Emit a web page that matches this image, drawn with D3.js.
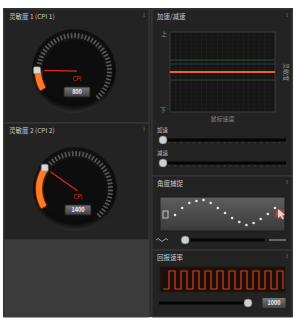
<!DOCTYPE html>
<html lang="zh">
<head>
<meta charset="UTF-8">
<title>鼠标设置</title>
<style>
  * { margin: 0; padding: 0; }
  body { background: #fff; }
  text { font-family: "Noto Sans CJK SC", "DejaVu Sans", sans-serif; }
</style>
</head>
<body>
<div id="chart"></div>
<script src="https://cdn.jsdelivr.net/npm/d3@7/dist/d3.min.js"></script>
<script>
// ---- data ----
const cpiTitles = ['灵敏度 1 (CPI 1)', '灵敏度 2 (CPI 2)']
const cpiValues = [800, 1400]
const cpiDomain = [250, 5600]

const accelTitle = '加速/减速'
const accelLines = [0, 0.3, 0.2, -0.2]
const accelColors = ['#f0642a', '#2f6a2a', '#27456a', '#2c5a2c']
const accelAxisLabels = ['上', '下']
const accelXLabel = '鼠标速度'
const accelYLabel = '灵敏度'
const sliderLabels = ['加速', '减速']
const sliderValues = [0, 0]

const snapTitle = '角度捕捉'
const snapDots = [-0.15, 0.38, 0.77, 0.92, 1, 0.77, 0.38, 0, -0.38, -0.69, -0.92, -0.77, -0.46, -0.08, 0.38]
const snapValue = 0.05

const rateTitle = '回报速率'
const ratePulses = [0, 1, 0, 1, 0, 1, 0, 1, 0, 1, 0, 1, 0, 1, 0, 1, 0, 1, 0, 1, 0]
const rateValue = 1000
const rateDomain = [125, 1000]

// ---- layout ----
const width = 297
const height = 318

const svg = d3.select('#chart')
    .append('svg')
    .attr('width', width)
    .attr('height', height)

const defs = svg.append('defs')

const dialGrad = defs.append('radialGradient').attr('id', 'dial')
    .attr('cx', '50%').attr('cy', '40%').attr('r', '60%')
dialGrad.append('stop').attr('offset', '0%').attr('stop-color', '#202020')
dialGrad.append('stop').attr('offset', '85%').attr('stop-color', '#0b0b0b')
dialGrad.append('stop').attr('offset', '100%').attr('stop-color', '#2e2e2e')

const boxGrad = defs.append('linearGradient').attr('id', 'box')
    .attr('x1', 0).attr('y1', 0).attr('x2', 0).attr('y2', 1)
boxGrad.append('stop').attr('offset', '0%').attr('stop-color', '#7a7a7a')
boxGrad.append('stop').attr('offset', '100%').attr('stop-color', '#3e3e3e')

const snapGrad = defs.append('linearGradient').attr('id', 'snap')
    .attr('x1', 0).attr('y1', 0).attr('x2', 0).attr('y2', 1)
snapGrad.append('stop').attr('offset', '0%').attr('stop-color', '#5e5e5e')
snapGrad.append('stop').attr('offset', '100%').attr('stop-color', '#3a3a3a')

const glow = defs.append('filter').attr('id', 'glow')
glow.append('feGaussianBlur').attr('stdDeviation', 1.2)

// background frame
svg.append('rect')
    .attr('x', 3).attr('y', 8)
    .attr('width', 290).attr('height', 309)
    .attr('fill', '#2a2a2a')

function panel(x, y, w, h, title, fill) {
    const g = svg.append('g').attr('transform', `translate(${x}, ${y})`)
    g.append('rect')
        .attr('width', w).attr('height', h)
        .attr('fill', fill || '#232323')
        .attr('stroke', '#3a3a3a')
        .attr('stroke-width', 1)
    if (title) {
        g.append('text')
            .attr('x', 5).attr('y', 10)
            .text(title)
            .attr('fill', '#c8c8c8')
            .style('font-size', '6.5px')
        g.append('text')
            .attr('x', w - 5).attr('y', 8)
            .attr('text-anchor', 'middle')
            .text('!')
            .attr('fill', '#aaa')
            .style('font-size', '5px')
    }
    return g
}

// ---- CPI gauges ----
const angle = d3.scaleLinear().domain(cpiDomain).range([-120, 183])
const rad = a => a * Math.PI / 180

const dialCenters = [[70, 62], [71, 66]]
const panelY = [9, 123]
const panelH = [114, 117]

cpiValues.forEach((v, i) => {
    const g = panel(4, panelY[i], 145, panelH[i], cpiTitles[i])
    const [cx, cy] = dialCenters[i]
    const dial = g.append('g').attr('transform', `translate(${cx}, ${cy})`)

    dial.append('circle').attr('r', 42).attr('fill', 'url(#dial)')
    dial.append('circle').attr('r', 31).attr('fill', '#0d0d0d')

    // tick ring past the current value
    const ticks = angle.ticks(40).filter(t => t > v + 100 && angle(t) < 140)
    dial.selectAll('line.tick')
        .data(ticks)
        .join('line')
        .attr('class', 'tick')
        .attr('x1', t => 33 * Math.sin(rad(angle(t))))
        .attr('y1', t => -33 * Math.cos(rad(angle(t))))
        .attr('x2', t => 38 * Math.sin(rad(angle(t))))
        .attr('y2', t => -38 * Math.cos(rad(angle(t))))
        .attr('stroke', '#5a5a5a')
        .attr('stroke-width', 1.6)

    // orange filled arc
    const arc = d3.arc()
        .innerRadius(33)
        .outerRadius(39)
        .startAngle(rad(angle(cpiDomain[0])))
        .endAngle(rad(angle(v)))
    dial.append('path').attr('d', arc()).attr('fill', '#ff5a10').attr('filter', 'url(#glow)')
    dial.append('path').attr('d', arc()).attr('fill', '#ff7a22')

    // needle
    const ka = rad(angle(v))
    dial.append('line')
        .attr('x1', 30 * Math.sin(ka)).attr('y1', -30 * Math.cos(ka))
        .attr('x2', -3 * Math.sin(ka)).attr('y2', 3 * Math.cos(ka))
        .attr('stroke', '#e0281c')
        .attr('stroke-width', 1.2)

    // knob
    dial.append('rect')
        .attr('x', 37 * Math.sin(ka) - 3.5).attr('y', -37 * Math.cos(ka) - 3.5)
        .attr('width', 7).attr('height', 7).attr('rx', 1.5)
        .attr('fill', '#d8d8d8').attr('stroke', '#777').attr('stroke-width', 0.6)

    dial.append('text')
        .attr('x', 3).attr('y', 10)
        .attr('text-anchor', 'middle')
        .text('CPI')
        .attr('fill', '#d8321e')
        .style('font-size', '5.5px')

    dial.append('rect')
        .attr('x', -10).attr('y', 16)
        .attr('width', 26).attr('height', 10).attr('rx', 1)
        .attr('fill', 'url(#box)')
        .attr('stroke', '#222')
    dial.append('text')
        .attr('x', 3).attr('y', 23.3)
        .attr('text-anchor', 'middle')
        .text(v)
        .attr('fill', '#f0f0f0')
        .style('font-size', '5.5px')
        .style('font-weight', 700)
})

panel(4, 240, 145, 77, null, '#3b3b3b')

// ---- acceleration ----
const accel = panel(152, 9, 140, 167, accelTitle)
const ax = { left: 18, top: 23, w: 105, h: 80 }
const xAcc = d3.scaleLinear().domain([0, 10]).range([ax.left, ax.left + ax.w])
const yAcc = d3.scaleLinear().domain([-1, 1]).range([ax.top + ax.h, ax.top])

accel.append('rect')
    .attr('x', ax.left).attr('y', ax.top)
    .attr('width', ax.w).attr('height', ax.h)
    .attr('fill', '#151515')
    .attr('stroke', '#3c3c3c')
accel.selectAll('line.gx')
    .data(d3.range(1, 20))
    .join('line')
    .attr('class', 'gx')
    .attr('x1', d => xAcc(d / 2)).attr('x2', d => xAcc(d / 2))
    .attr('y1', ax.top).attr('y2', ax.top + ax.h)
    .attr('stroke', '#242424').attr('stroke-width', 0.6)
accel.selectAll('line.gy')
    .data(d3.range(-9, 10))
    .join('line')
    .attr('class', 'gy')
    .attr('y1', d => yAcc(d / 10)).attr('y2', d => yAcc(d / 10))
    .attr('x1', ax.left).attr('x2', ax.left + ax.w)
    .attr('stroke', '#242424').attr('stroke-width', 0.6)

accel.selectAll('line.curve')
    .data(accelLines.slice().reverse())
    .join('line')
    .attr('class', 'curve')
    .attr('x1', ax.left).attr('x2', ax.left + ax.w)
    .attr('y1', d => yAcc(d)).attr('y2', d => yAcc(d))
    .attr('stroke', (d, i) => accelColors.slice().reverse()[i])
    .attr('stroke-width', (d, i) => i === accelLines.length - 1 ? 2 : 1.2)
    .attr('opacity', (d, i) => i === accelLines.length - 1 ? 1 : 0.7)

accel.append('text').attr('x', 9).attr('y', ax.top + 4).text(accelAxisLabels[0])
    .attr('fill', '#888').style('font-size', '6px')
accel.append('text').attr('x', 8).attr('y', ax.top + ax.h).text(accelAxisLabels[1])
    .attr('fill', '#888').style('font-size', '6px')
accel.append('text').attr('x', ax.left + ax.w / 2).attr('y', ax.top + ax.h + 9)
    .attr('text-anchor', 'middle').text(accelXLabel)
    .attr('fill', '#888').style('font-size', '6px')
accel.append('text')
    .attr('transform', `translate(${ax.left + ax.w + 9}, ${yAcc(0)}) rotate(90)`)
    .attr('text-anchor', 'middle').text(accelYLabel)
    .attr('fill', '#999').style('font-size', '6px')

// sliders
const xSlide = d3.scaleLinear().domain([0, 1]).range([11, 134])
sliderLabels.forEach((lab, i) => {
    const y = 131 + i * 23
    accel.append('text').attr('x', 5).attr('y', y - 8).text(lab)
        .attr('fill', '#bbb').style('font-size', '5.5px')
    accel.append('line')
        .attr('x1', xSlide(0)).attr('x2', xSlide(1))
        .attr('y1', y).attr('y2', y)
        .attr('stroke', '#050505').attr('stroke-width', 3)
    accel.selectAll(`line.st${i}`)
        .data(d3.range(0, 1.0001, 0.05))
        .join('line')
        .attr('class', `st${i}`)
        .attr('x1', d => xSlide(d)).attr('x2', d => xSlide(d))
        .attr('y1', y + 2).attr('y2', y + 3.5)
        .attr('stroke', '#555').attr('stroke-width', 0.6)
    accel.append('circle')
        .attr('cx', xSlide(sliderValues[i])).attr('cy', y).attr('r', 4)
        .attr('fill', '#d0d0d0').attr('stroke', '#777').attr('stroke-width', 0.6)
})

// ---- angle snapping ----
const snap = panel(152, 176, 140, 74, snapTitle)
const xSnap = d3.scaleLinear().domain([0, snapDots.length - 1]).range([23, 123])
const ySnap = d3.scaleLinear().domain([-1, 1]).range([50, 24])
snap.append('rect')
    .attr('x', 8).attr('y', 21).attr('width', 125).attr('height', 34)
    .attr('fill', 'url(#snap)').attr('stroke', '#1c1c1c')
snap.selectAll('circle.dot')
    .data(snapDots)
    .join('circle')
    .attr('class', 'dot')
    .attr('cx', (d, i) => xSnap(i))
    .attr('cy', d => ySnap(d))
    .attr('r', 1.3)
    .attr('fill', '#e8e8e8')
snap.append('rect')
    .attr('x', 11).attr('y', 35).attr('width', 5).attr('height', 7)
    .attr('fill', 'none').attr('stroke', '#ccc').attr('stroke-width', 0.9)
snap.append('circle').attr('cx', 128).attr('cy', 38).attr('r', 4)
    .attr('fill', '#d8473a').attr('filter', 'url(#glow)')
snap.append('path')
    .attr('d', 'M126,33 L126,42 L128.5,40 L130.5,43.5 L132,42.5 L130,39.5 L133,39 Z')
    .attr('fill', '#f4d0c8')

const xSnapSlider = d3.scaleLinear().domain([0, 1]).range([29, 113])
snap.append('path')
    .attr('d', 'M4,64 q2,-3 4,0 t4,0 t4,0')
    .attr('fill', 'none').attr('stroke', '#aaa').attr('stroke-width', 0.9)
snap.append('line')
    .attr('x1', xSnapSlider(0)).attr('x2', xSnapSlider(1)).attr('y1', 64).attr('y2', 64)
    .attr('stroke', '#050505').attr('stroke-width', 3)
snap.append('line')
    .attr('x1', 117).attr('x2', 134).attr('y1', 64).attr('y2', 64)
    .attr('stroke', '#aaa').attr('stroke-width', 1)
snap.append('circle')
    .attr('cx', xSnapSlider(snapValue)).attr('cy', 64).attr('r', 4)
    .attr('fill', '#d0d0d0').attr('stroke', '#777').attr('stroke-width', 0.6)

// ---- report rate ----
const rate = panel(152, 250, 140, 67, rateTitle)
const xRate = d3.scaleLinear().domain([0, ratePulses.length - 1]).range([11, 131])
const yRate = d3.scaleLinear().domain([0, 1]).range([39, 21])
rate.append('rect')
    .attr('x', 8).attr('y', 17).attr('width', 125).attr('height', 25)
    .attr('fill', '#1d0f0a').attr('stroke', '#1a1a1a')
rate.append('path')
    .datum(ratePulses)
    .attr('d', d3.line()
        .x((d, i) => xRate(i))
        .y(d => yRate(d))
        .curve(d3.curveStepAfter))
    .attr('fill', 'none')
    .attr('stroke', '#d2401a')
    .attr('stroke-width', 1.2)

const xRateSlider = d3.scaleLinear().domain(rateDomain).range([7, 96])
rate.append('line')
    .attr('x1', xRateSlider(rateDomain[0])).attr('x2', xRateSlider(rateDomain[1]))
    .attr('y1', 53).attr('y2', 53)
    .attr('stroke', '#050505').attr('stroke-width', 3)
rate.append('circle')
    .attr('cx', xRateSlider(rateValue)).attr('cy', 53).attr('r', 4)
    .attr('fill', '#d0d0d0').attr('stroke', '#777').attr('stroke-width', 0.6)
rate.append('rect')
    .attr('x', 110).attr('y', 47.5).attr('width', 24).attr('height', 11).attr('rx', 1)
    .attr('fill', 'url(#box)').attr('stroke', '#222')
rate.append('text')
    .attr('x', 122).attr('y', 55.3)
    .attr('text-anchor', 'middle')
    .text(rateValue)
    .attr('fill', '#f0f0f0')
    .style('font-size', '5.5px')
    .style('font-weight', 700)
</script>
</body>
</html>
